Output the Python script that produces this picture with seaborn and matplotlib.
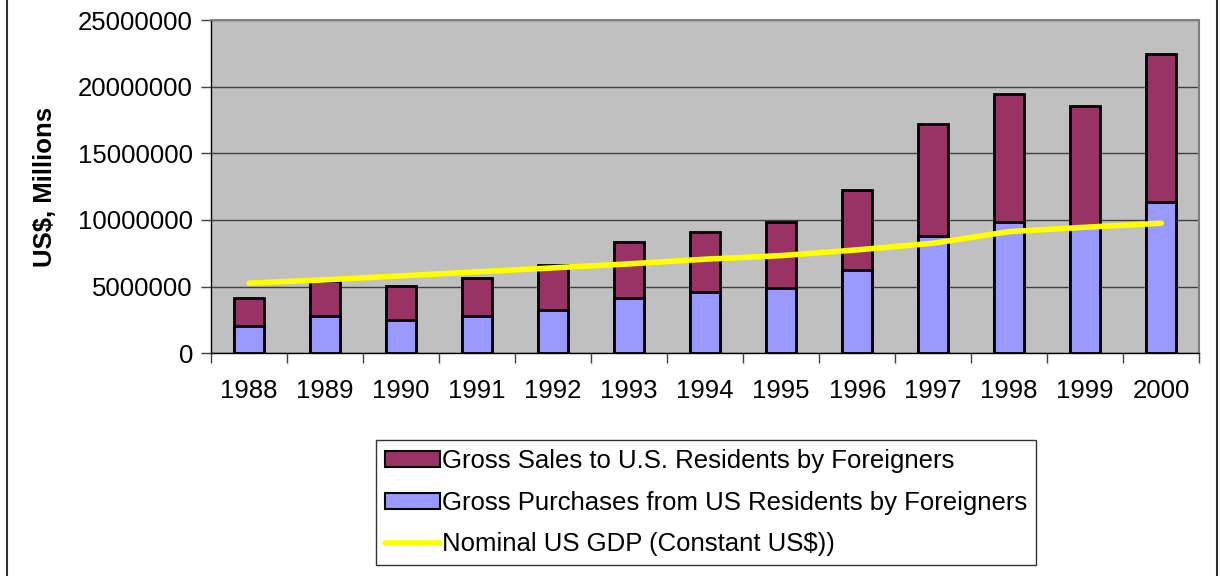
import numpy as np
import pandas as pd
import matplotlib
matplotlib.use("Agg")
import matplotlib.pyplot as plt
import seaborn as sns
from matplotlib.patches import Patch
from matplotlib.lines import Line2D

# Data (US$, millions)
years = ["1988", "1989", "1990", "1991", "1992", "1993", "1994",
         "1995", "1996", "1997", "1998", "1999", "2000"]
purchases = [2070000, 2820000, 2500000, 2820000, 3250000, 4170000, 4620000,
             4920000, 6250000, 8800000, 9850000, 9500000, 11350000]
sales = [2100000, 2600000, 2550000, 2850000, 3350000, 4200000, 4500000,
         4950000, 6000000, 8420000, 9600000, 9050000, 11120000]
gdp = [5250000, 5500000, 5800000, 6100000, 6400000, 6700000, 7050000,
       7320000, 7750000, 8250000, 9120000, 9450000, 9750000]

df = pd.DataFrame({"year": years, "purchases": purchases, "sales": sales, "gdp": gdp})
df["total"] = df["purchases"] + df["sales"]

c_sales = "#993366"
c_purch = "#9999FF"
c_gdp = "#FFFF00"

sns.set_theme(style="white")
plt.rcParams["font.family"] = ["Liberation Sans", "DejaVu Sans"]
plt.rcParams["text.color"] = "black"
plt.rcParams["xtick.color"] = "black"
plt.rcParams["ytick.color"] = "black"
plt.rcParams["axes.labelcolor"] = "black"

fs = 18.5

fig = plt.figure(figsize=(12.2, 5.76), dpi=100)
ax = fig.add_axes([0.173, 0.387, 0.810, 0.578])
ax.set_facecolor("#C0C0C0")

# stacked bars: total first, purchases on top of it
sns.barplot(data=df, x="year", y="total", color=c_sales, width=0.4,
            edgecolor="black", linewidth=2, saturation=1, ax=ax)
sns.barplot(data=df, x="year", y="purchases", color=c_purch, width=0.4,
            edgecolor="black", linewidth=2, saturation=1, ax=ax)

# GDP line
sns.lineplot(x=np.arange(len(years)), y=df["gdp"].values, color=c_gdp,
             linewidth=4, solid_capstyle="round", ax=ax)

ax.set_xlim(-0.5, len(years) - 0.5)
ax.set_ylim(0, 25000000)
ax.set_yticks(np.arange(0, 25000001, 5000000))
ax.set_yticklabels([f"{v:d}" for v in range(0, 25000001, 5000000)])
ax.yaxis.grid(True, color="#404040", linewidth=1)
ax.set_axisbelow(True)

# Excel style: tick marks between categories
ax.set_xticks(np.arange(len(years)))
ax.set_xticklabels(years)
ax.set_xticks(np.arange(-0.5, len(years), 1), minor=True)
ax.tick_params(axis="x", which="major", length=0, labelsize=fs, pad=19)
ax.tick_params(axis="x", which="minor", length=7, width=1, color="#404040", direction="out", bottom=True)
ax.tick_params(axis="y", length=7, width=1, color="#404040", direction="out", labelsize=fs,
               left=True, pad=6)

ax.set_xlabel("")
ax.set_ylabel("US$, Millions", fontsize=fs, fontweight="bold", labelpad=15)

for s in ["left", "bottom"]:
    ax.spines[s].set_color("black")
    ax.spines[s].set_linewidth(1)
for s in ["top", "right"]:
    ax.spines[s].set_color("#808080")
    ax.spines[s].set_linewidth(1.5)

handles = [
    Patch(facecolor=c_sales, edgecolor="black", linewidth=1.5),
    Patch(facecolor=c_purch, edgecolor="black", linewidth=1.5),
    Line2D([0], [0], color=c_gdp, linewidth=4),
]
labels = ["Gross Sales to U.S. Residents by Foreigners",
          "Gross Purchases from US Residents by Foreigners",
          "Nominal US GDP (Constant US$))"]
leg = fig.legend(handles, labels, loc="center", bbox_to_anchor=(0.5787, 0.127),
                 fontsize=fs, frameon=True, fancybox=False, handlelength=2.15,
                 handleheight=0.6, handletextpad=0.05, labelspacing=0.68,
                 borderpad=0.35, borderaxespad=0)
leg.get_frame().set_edgecolor("black")
leg.get_frame().set_linewidth(1)

# outer chart border lines at left and right
fig.add_artist(Line2D([0.006, 0.006], [0, 1], color="#303030", linewidth=1.5, transform=fig.transFigure))
fig.add_artist(Line2D([0.9975, 0.9975], [0, 1], color="#303030", linewidth=1.5, transform=fig.transFigure))

fig.savefig("out.png", dpi=100, facecolor="white")
